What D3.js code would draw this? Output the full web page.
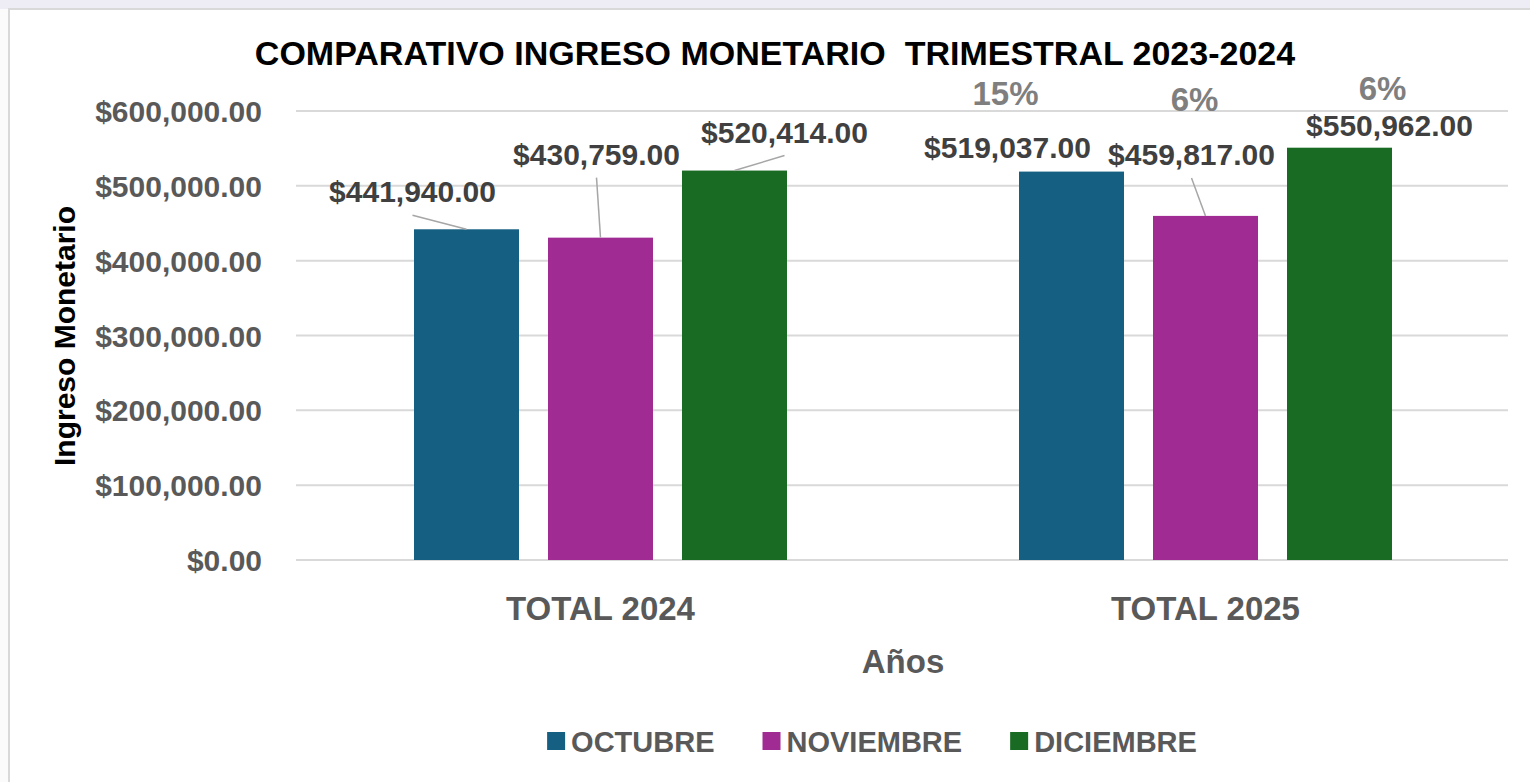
<!DOCTYPE html>
<html>
<head>
<meta charset="utf-8">
<script src="https://cdn.jsdelivr.net/npm/d3@7/dist/d3.min.js"></script>
<style>
  html, body { margin: 0; padding: 0; background: #fbfbfb; }
  svg { display: block; font-family: "Liberation Sans", Arial, sans-serif; }
</style>
</head>
<body>
<svg id="chart" width="1530" height="782"></svg>
<script>
// ---- data ----
const categories = ["TOTAL 2024", "TOTAL 2025"];
const seriesNames = ["OCTUBRE", "NOVIEMBRE", "DICIEMBRE"];
const octubre   = [441940, 519037];
const noviembre = [430759, 459817];
const diciembre = [520414, 550962];
const pctLabels = ["15%", "6%", "6%"];   // shown above TOTAL 2025 bars
const yTicks = [0, 100000, 200000, 300000, 400000, 500000, 600000];

// ---- layout / style ----
const colors = ["#156082", "#a02b93", "#196b24"];
// label offsets (dx from bar center, dy from bar top to baseline) per [category][series]
const labelOffsets = [
  [[-54, -27], [-4, -73], [50, -28]],
  [[-64, -14], [-14, -51], [50, -12]]
];
const pctOffsets = [[-66, -67], [-11, -105], [43, -48]];

const svg = d3.select("#chart");
const W = 1530, H = 782;

// top strip and chart frame
svg.append("rect").attr("x", 0).attr("y", 0).attr("width", W).attr("height", 9).attr("fill", "#eeedf5");
svg.append("rect").attr("x", 9).attr("y", 9).attr("width", W + 10).attr("height", H + 10)
  .attr("fill", "#ffffff").attr("stroke", "#d9d9d9").attr("stroke-width", 2);

const plot = { left: 298, right: 1508, top: 111, bottom: 560 };

const x0 = d3.scaleBand().domain(categories).range([plot.left, plot.right]).padding(0);
const groupWidth = 373;
const x1 = d3.scaleBand().domain(seriesNames).range([0, groupWidth]).paddingInner(0.2164).paddingOuter(0);
const y = d3.scaleLinear().domain([0, 600000]).range([plot.bottom, plot.top]);

// gridlines
svg.append("g").selectAll("line").data(yTicks).join("line")
  .attr("x1", plot.left - 2).attr("x2", plot.right)
  .attr("y1", d => y(d)).attr("y2", d => y(d))
  .attr("stroke", "#d9d9d9").attr("stroke-width", 2);

// y axis tick labels via d3 axis
const fmt = d3.format("$,.2f");
const yAxis = d3.axisLeft(y).tickValues(yTicks).tickFormat(fmt).tickSize(0).tickPadding(0);
const gy = svg.append("g").attr("transform", `translate(262,0)`).call(yAxis);
gy.select(".domain").remove();
gy.selectAll("text").attr("font-size", 30).attr("font-weight", "bold").attr("fill", "#595959")
  .attr("font-family", "Liberation Sans, Arial, sans-serif").attr("dy", "0.35em");

// x axis category labels
const xAxis = d3.axisBottom(x0).tickSize(0).tickPadding(0);
const gx = svg.append("g").attr("transform", `translate(0,${plot.bottom})`).call(xAxis);
gx.select(".domain").remove();
gx.selectAll("text").attr("font-size", 33).attr("font-weight", "bold").attr("fill", "#595959")
  .attr("font-family", "Liberation Sans, Arial, sans-serif").attr("dy", null).attr("y", 60);

// bars
const seriesVals = [octubre, noviembre, diciembre];
const barData = [];
categories.forEach((c, ci) => {
  seriesNames.forEach((s, si) => {
    barData.push({ c, ci, s, si, v: seriesVals[si][ci] });
  });
});
const groupX = c => x0(c) + (x0.bandwidth() - groupWidth) / 2;

svg.append("g").selectAll("rect").data(barData).join("rect")
  .attr("x", d => groupX(d.c) + x1(d.s))
  .attr("y", d => y(d.v))
  .attr("width", x1.bandwidth())
  .attr("height", d => y(0) - y(d.v))
  .attr("fill", d => colors[d.si]);

// leader lines and data labels
const lbl = svg.append("g");
barData.forEach(d => {
  const cx = groupX(d.c) + x1(d.s) + x1.bandwidth() / 2;
  const top = y(d.v);
  const [dx, dy] = labelOffsets[d.ci][d.si];
  const lx = cx + dx, ly = top + dy;
  if (dy < -20) {
    lbl.append("line").attr("x1", lx).attr("y1", ly + 13).attr("x2", cx).attr("y2", top)
      .attr("stroke", "#a6a6a6").attr("stroke-width", 1.5);
  }
  lbl.append("text").attr("x", lx).attr("y", ly).attr("text-anchor", "middle")
    .attr("font-size", 30).attr("font-weight", "bold").attr("fill", "#404040")
    .text(fmt(d.v));
  if (d.ci === 1) {
    const [pdx, pdy] = pctOffsets[d.si];
    lbl.append("text").attr("x", cx + pdx).attr("y", top + pdy).attr("text-anchor", "middle")
      .attr("font-size", 33).attr("font-weight", "bold").attr("fill", "#7f7f7f")
      .text(pctLabels[d.si]);
  }
});

// title
svg.append("text").attr("x", 775).attr("y", 65).attr("text-anchor", "middle")
  .attr("font-size", 34).attr("font-weight", "bold").attr("fill", "#000")
  .attr("xml:space", "preserve").style("white-space", "pre")
  .text("COMPARATIVO INGRESO MONETARIO  TRIMESTRAL 2023-2024");

// axis titles
svg.append("text").attr("transform", "translate(75,336) rotate(-90)").attr("text-anchor", "middle")
  .attr("font-size", 30).attr("font-weight", "bold").attr("fill", "#000")
  .text("Ingreso Monetario");
svg.append("text").attr("x", 903).attr("y", 673).attr("text-anchor", "middle")
  .attr("font-size", 33).attr("font-weight", "bold").attr("fill", "#595959")
  .text("Años");

// legend
const leg = svg.append("g");
let items = [];
seriesNames.forEach((s, i) => {
  const g = leg.append("g");
  g.append("rect").attr("x", 0).attr("y", 732).attr("width", 18).attr("height", 18).attr("fill", colors[i]);
  const t = g.append("text").attr("x", 24).attr("y", 752).attr("font-size", 29).attr("font-weight", "bold")
    .attr("fill", "#595959").text(s);
  items.push({ g, w: 24 + t.node().getComputedTextLength() });
});
const gap = 48;
const total = d3.sum(items, d => d.w) + gap * (items.length - 1);
let cur = 872 - total / 2;
items.forEach(it => { it.g.attr("transform", `translate(${cur},0)`); cur += it.w + gap; });
</script>
</body>
</html>
